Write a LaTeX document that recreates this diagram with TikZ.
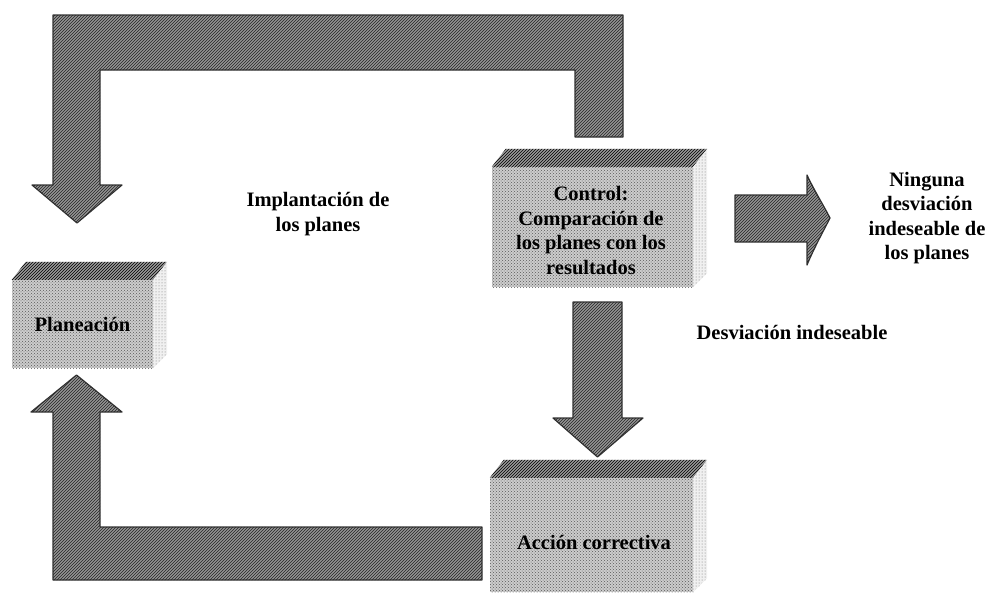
\documentclass[tikz,border=0pt]{standalone}
\usepackage{fontspec}
\setmainfont{Liberation Serif}
\usetikzlibrary{patterns}
\tikzset{
  lbl/.style={font=\fontsize{20.5}{24.5}\selectfont\bfseries, align=center, inner sep=0pt},
  blockarrow/.style={fill=black!42, draw=black!80, line width=1.2pt, line join=round,
     postaction={pattern=north east lines, pattern color=black!85}},
  frontface/.style={draw=none, fill=black!20, inner sep=0pt,
     postaction={pattern=crosshatch dots, pattern color=black!65}},
  topface/.style={fill=black!40, draw=none,
     postaction={pattern=north east lines, pattern color=black}},
  sideface/.style={fill=black!6, draw=none,
     postaction={pattern=dots, pattern color=black!55}}
}
\newcommand\bevelbox[1]{%
  \fill[topface] ([yshift=0pt]#1.north west) -- ([shift={(14pt,18pt)}]#1.north west)
     -- ([shift={(14pt,18pt)}]#1.north east) -- (#1.north east) -- cycle;
  \fill[sideface] (#1.north east) -- ([shift={(14pt,18pt)}]#1.north east)
     -- ([shift={(14pt,14pt)}]#1.south east) -- (#1.south east) -- cycle;
}
\begin{document}
\begin{tikzpicture}[x=1pt,y=1pt]
\useasboundingbox (0,0) rectangle (994,-595);

% boxes (front faces)
\node[frontface, minimum width=141pt, minimum height=88pt] (plan) at (82.5,-324) {};
\node[frontface, minimum width=201pt, minimum height=120pt] (ctrl) at (592.5,-227) {};
\node[frontface, minimum width=203pt, minimum height=114pt] (acc) at (591.5,-535) {};
\bevelbox{plan}
\bevelbox{ctrl}
\bevelbox{acc}

% block arrows
% top loop: control -> planeacion
\filldraw[blockarrow] (623,-15) -- (623,-137) -- (575,-137) -- (575,-70) -- (100,-70)
  -- (100,-185) -- (122,-185) -- (77,-223) -- (32,-185) -- (53,-185) -- (53,-15) -- cycle;
% bottom loop: accion -> planeacion
\filldraw[blockarrow] (482,-527) -- (482,-580) -- (53,-580) -- (53,-412) -- (31,-412)
  -- (76.5,-375) -- (122,-412) -- (100,-412) -- (100,-527) -- cycle;
% control -> accion
\filldraw[blockarrow] (573,-302) -- (622,-302) -- (622,-418) -- (643,-418) -- (597.5,-457)
  -- (553,-418) -- (573,-418) -- cycle;
% control -> ninguna desviacion
\filldraw[blockarrow] (735,-195) -- (807,-195) -- (807,-175)
  .. controls (815,-192) and (824,-206) .. (830,-218)
  .. controls (824,-230) and (815,-246) .. (807,-265)
  -- (807,-242) -- (735,-242) -- cycle;

% texts
\node[lbl] (tplan) at (plan.center) {Planeación};
\node[lbl] (tctrl) at (591,-230.5) {Control:\\Comparación de\\los planes con los\\resultados};
\node[lbl] (tacc) at (594,-542) {Acción correctiva};
\node[lbl] (timpl) at (318,-214) {Implantación de\\los planes};
\node[lbl] (tning) at (927,-218) {Ninguna\\desviación\\indeseable de\\los planes};
\node[lbl] (tdesv) at (792,-332) {Desviación indeseable};
\end{tikzpicture}
\end{document}
